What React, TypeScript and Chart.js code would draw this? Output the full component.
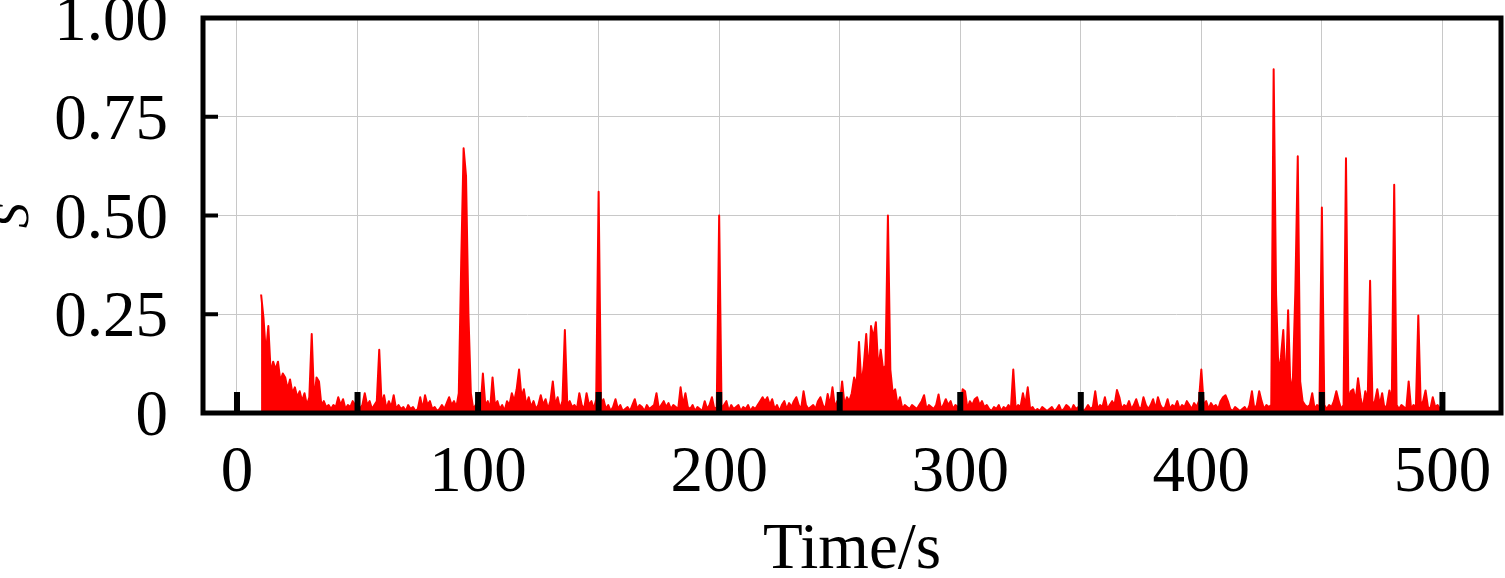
import React, { useEffect, useRef } from "react";
import { Chart, registerables } from "chart.js";

Chart.register(...registerables);

// sampling of the record: one value per second starting at 10 s
const startTime = 10;
const sampleStep = 1;

// S values, 50 s per block
const s010to049 = [
  0.3, 0.24, 0.15, 0.22, 0.1, 0.13, 0.11, 0.13, 0.08, 0.1,
  0.09, 0.06, 0.085, 0.05, 0.065, 0.04, 0.055, 0.03, 0.05, 0.02,
  0.04, 0.2, 0.03, 0.09, 0.08, 0.02, 0.03, 0.015, 0.02, 0.01,
  0.02, 0.015, 0.04, 0.02, 0.035, 0.01, 0.02, 0.015, 0.03, 0.02,
];
const s050to099 = [
  0.03, 0.01, 0.02, 0.05, 0.02, 0.03, 0.01, 0.02, 0.03, 0.16,
  0.02, 0.045, 0.01, 0.03, 0.015, 0.045, 0.01, 0.02, 0.01, 0.015,
  0.005, 0.02, 0.01, 0.015, 0.005, 0.01, 0.04, 0.01, 0.045, 0.02,
  0.03, 0.01, 0.015, 0.005, 0.01, 0.02, 0.01, 0.025, 0.04, 0.02,
  0.03, 0.015, 0.05, 0.38, 0.67, 0.6, 0.25, 0.05, 0.01, 0.02,
];
const s100to149 = [
  0.03, 0.01, 0.1, 0.02, 0.03, 0.01, 0.09, 0.02, 0.03, 0.01,
  0.02, 0.005, 0.03, 0.02, 0.05, 0.03, 0.06, 0.11, 0.04, 0.06,
  0.02, 0.04, 0.015, 0.03, 0.01, 0.02, 0.045, 0.02, 0.035, 0.01,
  0.03, 0.08, 0.02, 0.04, 0.01, 0.03, 0.21, 0.02, 0.03, 0.015,
  0.02, 0.01, 0.05, 0.02, 0.01, 0.05, 0.02, 0.03, 0.01, 0.035,
];
const s150to199 = [
  0.56, 0.02, 0.035, 0.01, 0.02, 0.005, 0.015, 0.035, 0.01, 0.02,
  0.005, 0.01, 0.015, 0.005, 0.02, 0.035, 0.01, 0.02, 0.015, 0.005,
  0.02, 0.01, 0.015, 0.02, 0.05, 0.01, 0.02, 0.03, 0.015, 0.025,
  0.01, 0.02, 0.015, 0.01, 0.065, 0.02, 0.05, 0.015, 0.01, 0.02,
  0.005, 0.015, 0.01, 0.005, 0.03, 0.01, 0.02, 0.04, 0.01, 0.015,
];
const s200to249 = [
  0.5, 0.01, 0.02, 0.03, 0.005, 0.02, 0.01, 0.015, 0.02, 0.005,
  0.015, 0.01, 0.02, 0.005, 0.015, 0.01, 0.02, 0.03, 0.04, 0.03,
  0.04, 0.02, 0.035, 0.01, 0.02, 0.005, 0.02, 0.03, 0.01, 0.025,
  0.015, 0.03, 0.04, 0.02, 0.01, 0.055, 0.02, 0.01, 0.015, 0.02,
  0.01, 0.03, 0.04, 0.02, 0.01, 0.048, 0.02, 0.065, 0.015, 0.03,
];
const s250to299 = [
  0.02, 0.08, 0.02, 0.04, 0.03, 0.05, 0.09, 0.07, 0.18, 0.07,
  0.12, 0.2, 0.1, 0.22, 0.19, 0.23, 0.11, 0.16, 0.11, 0.12,
  0.5, 0.11, 0.05, 0.06, 0.02, 0.04, 0.01, 0.02, 0.015, 0.01,
  0.02, 0.015, 0.01, 0.02, 0.03, 0.045, 0.01, 0.02, 0.015, 0.01,
  0.02, 0.047, 0.01, 0.02, 0.035, 0.02, 0.03, 0.01, 0.02, 0.015,
];
const s300to349 = [
  0.02, 0.06, 0.055, 0.01, 0.03, 0.02, 0.035, 0.04, 0.02, 0.03,
  0.015, 0.02, 0.01, 0.005, 0.015, 0.01, 0.02, 0.005, 0.015, 0.01,
  0.02, 0.01, 0.11, 0.01, 0.02, 0.015, 0.05, 0.02, 0.065, 0.01,
  0.015, 0.005, 0.01, 0.005, 0.015, 0.01, 0.005, 0.01, 0.015, 0.005,
  0.01, 0.02, 0.005, 0.01, 0.02, 0.015, 0.005, 0.02, 0.01, 0.015,
];
const s350to399 = [
  0.01, 0.005, 0.01, 0.02, 0.01, 0.015, 0.055, 0.01, 0.02, 0.015,
  0.04, 0.01, 0.02, 0.03, 0.02, 0.058, 0.04, 0.01, 0.02, 0.015,
  0.03, 0.01, 0.02, 0.035, 0.015, 0.01, 0.04, 0.02, 0.01, 0.02,
  0.035, 0.01, 0.04, 0.02, 0.01, 0.015, 0.035, 0.01, 0.02, 0.015,
  0.03, 0.01, 0.02, 0.015, 0.03, 0.02, 0.01, 0.025, 0.015, 0.03,
];
const s400to449 = [
  0.11, 0.02, 0.03, 0.01, 0.025, 0.015, 0.02, 0.01, 0.03, 0.04,
  0.045, 0.03, 0.01, 0.005, 0.015, 0.01, 0.005, 0.01, 0.015, 0.005,
  0.02, 0.055, 0.01, 0.02, 0.055, 0.03, 0.01, 0.02, 0.015, 0.02,
  0.87, 0.3, 0.1, 0.14, 0.21, 0.06, 0.26, 0.05, 0.09, 0.31,
  0.65, 0.08, 0.03, 0.02, 0.015, 0.02, 0.05, 0.01, 0.02, 0.015,
];
const s450to499 = [
  0.52, 0.02, 0.01, 0.02, 0.015, 0.03, 0.055, 0.03, 0.01, 0.02,
  0.645, 0.03, 0.055, 0.06, 0.03, 0.088, 0.04, 0.01, 0.055, 0.03,
  0.335, 0.02, 0.03, 0.06, 0.02, 0.05, 0.01, 0.02, 0.057, 0.03,
  0.578, 0.02, 0.01, 0.02, 0.015, 0.01, 0.08, 0.01, 0.02, 0.015,
  0.247, 0.02, 0.03, 0.057, 0.015, 0.01, 0.04, 0.015, 0.02, 0.01,
];

const blocks = [
  s010to049, s050to099, s100to149, s150to199, s200to249,
  s250to299, s300to349, s350to399, s400to449, s450to499,
];

const xTicks = [0, 50, 100, 150, 200, 250, 300, 350, 400, 450, 500];
const xTickLabels = ["0", "", "100", "", "200", "", "300", "", "400", "", "500"];
const yTicks = [0, 0.25, 0.5, 0.75, 1];
const yTickLabels = ["0", "0.25", "0.50", "0.75", "1.00"];

const FONT = "'Liberation Serif', 'Times New Roman', serif";

// thick black box plus the short inward tick marks
const framePlugin = {
  id: "frame",
  afterDatasetsDraw(chart: any) {
    const { ctx, chartArea: a, scales } = chart;
    ctx.save();
    ctx.fillStyle = "#000";
    xTicks.forEach((v) => {
      const px = scales.x.getPixelForValue(v);
      ctx.fillRect(px - 3, a.bottom - 21, 6, 21);
    });
    yTicks.forEach((v) => {
      const py = scales.y.getPixelForValue(v);
      ctx.fillRect(a.left, py - 2, 15, 4);
    });
    ctx.strokeStyle = "#000";
    ctx.lineWidth = 5;
    ctx.strokeRect(a.left, a.top, a.right - a.left, a.bottom - a.top);
    ctx.restore();
  },
};

const SignalChart = () => {
  const chartRef = useRef<HTMLCanvasElement>(null);

  useEffect(() => {
    if (!chartRef.current) return;
    const ctx = chartRef.current.getContext("2d");
    if (!ctx) return;

    const values = blocks.flat();
    const points = values.map((v, i) => ({ x: startTime + i * sampleStep, y: v }));

    const chart = new Chart(ctx, {
      type: "line",
      data: {
        datasets: [
          {
            data: points,
            borderColor: "#ff0000",
            backgroundColor: "#ff0000",
            borderWidth: 2,
            borderJoinStyle: "round",
            fill: "origin",
            tension: 0,
            pointRadius: 0,
          },
        ],
      },
      options: {
        responsive: false,
        animation: false,
        layout: { padding: { left: 0, top: 18, right: 4, bottom: 0 } },
        plugins: {
          legend: { display: false },
          tooltip: { enabled: false },
        },
        scales: {
          x: {
            type: "linear",
            min: -14.1,
            max: 524.3,
            afterBuildTicks: (s: any) => {
              s.ticks = xTicks.map((value) => ({ value }));
            },
            afterFit: (s: any) => {
              s.height = 165;
              s.paddingLeft = 0;
              s.paddingRight = 0;
              s.paddingTop = 0;
              s.paddingBottom = 0;
            },
            grid: { color: "#c8c8c8", lineWidth: 1, drawTicks: false },
            border: { display: false },
            ticks: {
              autoSkip: false,
              maxRotation: 0,
              padding: 22,
              color: "#000",
              font: { family: FONT, size: 65 },
              callback: (_v: any, i: number) => xTickLabels[i],
            },
            title: {
              display: true,
              text: "Time/s",
              color: "#000",
              padding: 0,
              font: { family: FONT, size: 65, lineHeight: 0.82 },
            },
          },
          y: {
            min: 0,
            max: 1,
            afterBuildTicks: (s: any) => {
              s.ticks = yTicks.map((value) => ({ value }));
            },
            afterFit: (s: any) => {
              s.width = 203;
              s.paddingLeft = 0;
              s.paddingRight = 0;
              s.paddingTop = 0;
              s.paddingBottom = 0;
            },
            grid: { color: "#c8c8c8", lineWidth: 1, drawTicks: false },
            border: { display: false },
            ticks: {
              padding: 35,
              labelOffset: 5,
              color: "#000",
              font: { family: FONT, size: 65 },
              callback: (_v: any, i: number) => yTickLabels[i],
            },
            title: {
              display: true,
              text: "S",
              color: "#000",
              padding: 0,
              font: { family: FONT, size: 50, style: "italic", lineHeight: 0.6 },
            },
          },
        },
      },
      plugins: [framePlugin],
    } as any);

    return () => {
      chart.destroy();
    };
  }, []);

  return (
    <div style={{ position: "fixed", left: 0, top: 0, width: 1505, height: 578, background: "#fff" }}>
      <canvas ref={chartRef} width={1505} height={578} style={{ width: 1505, height: 578 }}></canvas>
    </div>
  );
};

export default function App() {
  return <SignalChart />;
}
